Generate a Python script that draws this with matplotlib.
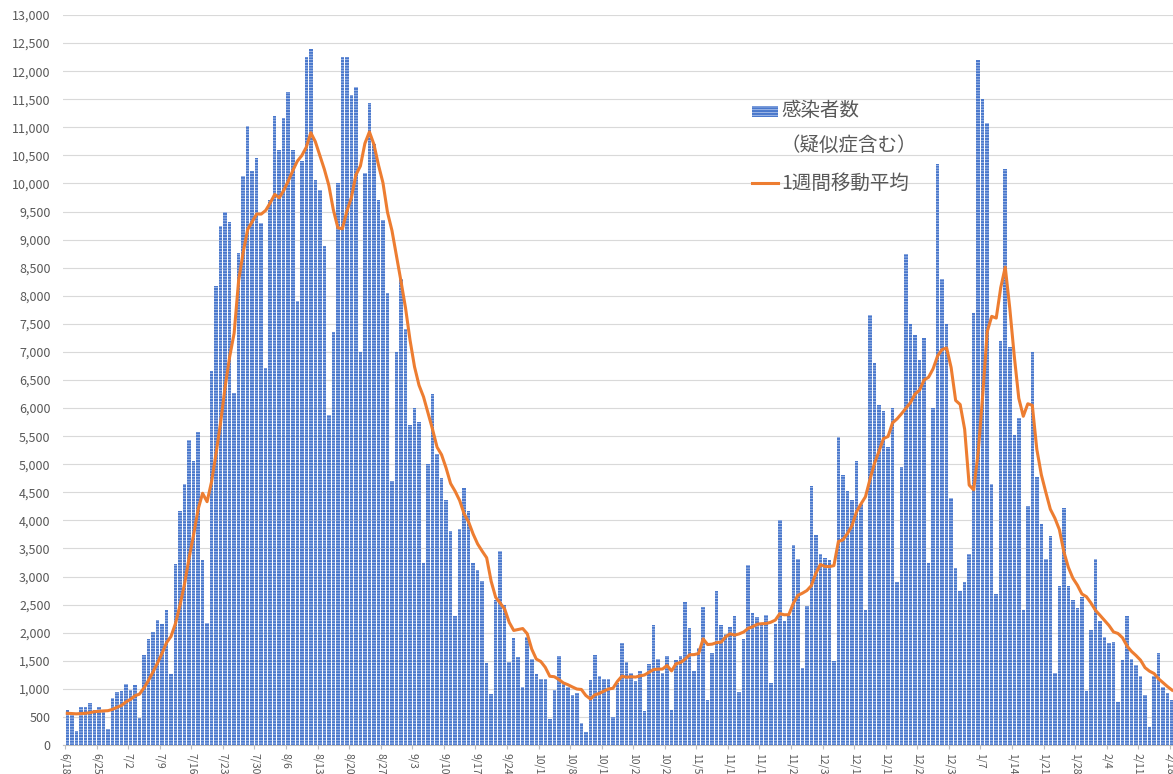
import matplotlib
matplotlib.use("Agg")
import matplotlib.pyplot as plt
from matplotlib.patches import Rectangle
from matplotlib.lines import Line2D
import numpy as np

plt.rcParams['font.family'] = ['Noto Sans CJK JP', 'DejaVu Sans']
plt.rcParams['hatch.linewidth'] = 0.45

# ---------------- data (2022-06-18 .. 2023-02-18, one value per day) ----------------
cases_jun = [620, 550, 250, 680, 680, 740, 630, 670, 600, 280, 830, 950, 960]
cases_jul = [1080, 980, 1060, 480, 1600, 1880, 2010, 2220, 2160, 2400, 1260, 3230, 4160, 4640,
             5430, 5050, 5580, 3290, 2180, 6660, 8170, 9250, 9500, 9320, 6260, 8760, 10140,
             11030, 10230, 10460, 9300]
cases_aug = [6720, 9700, 11200, 10590, 11170, 11620, 10590, 7900, 10400, 12250, 12390, 10070,
             9890, 8880, 5880, 7360, 10010, 12260, 12260, 11580, 11710, 7000, 10180, 11440,
             10700, 9710, 9350, 8050, 4700, 7000, 8300]
cases_sep = [7400, 5700, 6000, 5750, 3250, 5000, 6250, 5180, 4750, 4360, 3810, 2290, 3850, 4580,
             4160, 3250, 3120, 2920, 1460, 910, 2580, 3450, 2490, 1480, 1910, 1570, 1040, 1930,
             1530, 1260]
cases_oct = [1170, 1180, 460, 980, 1590, 1100, 1040, 890, 920, 400, 230, 1160, 1610, 1220, 1180,
             1180, 490, 1100, 1810, 1470, 1280, 1140, 1320, 610, 1440, 2140, 1530, 1290, 1590,
             630, 1510]
cases_nov = [1590, 2550, 2090, 1310, 1720, 2460, 800, 1640, 2750, 2140, 1970, 2100, 2300, 950,
             1880, 3200, 2350, 2280, 2160, 2320, 1110, 2150, 4000, 2210, 2300, 3560, 3320, 1380,
             2480, 4610]
cases_dec = [3740, 3410, 3330, 3290, 1500, 5490, 4810, 4530, 4370, 5050, 4300, 2400, 7650, 6800,
             6050, 5950, 5300, 6000, 2900, 4950, 8750, 7500, 7300, 6850, 7250, 3250, 6000, 10350,
             8300, 7500, 4400]
cases_jan = [3150, 2750, 2900, 3400, 7700, 12200, 11500, 11080, 4650, 2690, 7200, 10250, 7090,
             5520, 5830, 2400, 4250, 7000, 4770, 3930, 3310, 3730, 1290, 2830, 4220, 2830, 2580,
             2440, 2630, 960, 2050]
cases_feb = [3310, 2210, 1930, 1810, 1830, 760, 1520, 2290, 1530, 1420, 1230, 890, 320, 1230,
             1630, 1040, 930, 800]

ma_jun = [565, 560, 555, 560, 565, 575, 593, 600, 607, 611, 633, 671, 703]
ma_jul = [767, 811, 877, 906, 1016, 1149, 1299, 1461, 1630, 1821, 1933, 2166, 2491, 2867, 3326,
          3739, 4193, 4483, 4333, 4690, 5194, 5740, 6376, 6910, 7334, 8274, 8771, 9180, 9320,
          9457, 9454]
ma_aug = [9520, 9654, 9806, 9743, 9877, 10043, 10227, 10396, 10496, 10646, 10903, 10746, 10499,
          10254, 9966, 9531, 9211, 9193, 9506, 9747, 10151, 10311, 10714, 10919, 10696, 10331,
          10013, 9490, 9161, 8707, 8259]
ma_sep = [7787, 7214, 6736, 6407, 6200, 5914, 5621, 5304, 5169, 4934, 4657, 4520, 4356, 4117,
          3971, 3757, 3580, 3453, 3334, 2914, 2629, 2527, 2419, 2184, 2040, 2056, 2074, 1981,
          1707, 1531]
ma_oct = [1487, 1383, 1224, 1216, 1167, 1106, 1074, 1034, 997, 989, 881, 820, 893, 919, 960, 997,
          1010, 1134, 1227, 1207, 1216, 1210, 1230, 1247, 1296, 1343, 1351, 1353, 1417, 1319, 1447]
ma_nov = [1469, 1527, 1607, 1610, 1629, 1890, 1789, 1796, 1824, 1831, 1926, 1980, 1957, 1979,
          2013, 2077, 2107, 2151, 2160, 2163, 2186, 2224, 2339, 2319, 2321, 2521, 2664, 2703,
          2750, 2837]
ma_dec = [3056, 3214, 3181, 3177, 3194, 3624, 3653, 3766, 3903, 4149, 4293, 4421, 4730, 5014,
          5231, 5457, 5493, 5736, 5807, 5900, 6000, 6100, 6250, 6321, 6500, 6550, 6700, 6929,
          7043, 7071, 6721]
ma_jan = [6136, 6064, 5621, 4629, 4543, 5214, 6229, 7361, 7633, 7603, 8146, 8510, 7780, 6926,
          6176, 5854, 6077, 6049, 5266, 4814, 4499, 4199, 4040, 3837, 3440, 3163, 2970, 2846,
          2689, 2641, 2530]
ma_feb = [2400, 2311, 2219, 2129, 2014, 1986, 1910, 1764, 1667, 1594, 1511, 1377, 1314, 1273,
          1179, 1109, 1039, 977]

week_labels = ['6/18', '6/25', '7/2', '7/9', '7/16', '7/23', '7/30', '8/6', '8/13', '8/20',
               '8/27', '9/3', '9/10', '9/17', '9/24', '10/1', '10/8', '10/15', '10/22', '10/29',
               '11/5', '11/12', '11/19', '11/26', '12/3', '12/10', '12/17', '12/24', '12/31',
               '1/7', '1/14', '1/21', '1/28', '2/4', '2/11', '2/18']

bar_label = '感染者数'
bar_label2 = '（疑似症含む）'
line_label = '1週間移動平均'

cases = (cases_jun + cases_jul + cases_aug + cases_sep + cases_oct + cases_nov + cases_dec
         + cases_jan + cases_feb)
ma = ma_jun + ma_jul + ma_aug + ma_sep + ma_oct + ma_nov + ma_dec + ma_jan + ma_feb

# ---------------- figure ----------------
W, H = 1173, 774
fig = plt.figure(figsize=(W / 100, H / 100), dpi=100)
fig.patch.set_facecolor('white')
ax = fig.add_axes([63 / W, 1 - 745 / H, 1 - 63 / W, (745 - 15) / H])

BAR_COLOR = '#4A78CC'
HATCH_COLOR = '#CCD9F3'
LINE_COLOR = '#ED7D31'
TEXT_COLOR = '#595959'
HATCH = '------'

x = np.arange(len(cases))
ax.bar(x, cases, width=0.78, color=BAR_COLOR, edgecolor=HATCH_COLOR, linewidth=0,
       hatch=HATCH, zorder=2)
ax.plot(np.arange(len(ma)), ma, color=LINE_COLOR, lw=2.2, zorder=3, solid_joinstyle='round')

ax.set_xlim(-0.95, 245.2)
ax.set_ylim(0, 13000)
yt = np.arange(0, 13001, 500)
ax.set_yticks(yt)
ax.set_yticklabels([f'{v:,}' for v in yt], fontsize=9, color=TEXT_COLOR)
ax.tick_params(axis='y', length=0, pad=9)
ax.yaxis.grid(True, color='#D9D9D9', lw=0.8, zorder=0)
ax.set_axisbelow(True)

ax.set_xticks(np.arange(0, 7 * len(week_labels), 7) - 0.5)
ax.set_xticklabels(week_labels, rotation=270, fontsize=7.5, color=TEXT_COLOR)
ax.tick_params(axis='x', length=3, color='#BFBFBF', pad=3)

for s in ['top', 'right', 'left']:
    ax.spines[s].set_visible(False)
ax.spines['bottom'].set_color('#BFBFBF')
ax.spines['bottom'].set_linewidth(0.8)

# ---------------- legend ----------------
fig.add_artist(Rectangle((752 / W, 1 - 117 / H), 26 / W, 11 / H, transform=fig.transFigure,
                         facecolor=BAR_COLOR, edgecolor=HATCH_COLOR, linewidth=0, hatch=HATCH))
fig.text(781 / W, 1 - 111 / H, bar_label, fontsize=14, color=TEXT_COLOR, va='center', ha='left')
fig.text(781 / W, 1 - 145 / H, bar_label2, fontsize=14, color=TEXT_COLOR, va='center', ha='left')
fig.add_artist(Line2D([752 / W, 778 / W], [1 - 183 / H, 1 - 183 / H], transform=fig.transFigure,
                      color=LINE_COLOR, lw=2.2))
fig.text(781 / W, 1 - 183 / H, line_label, fontsize=14, color=TEXT_COLOR, va='center', ha='left')

fig.savefig('out.png', dpi=100)
